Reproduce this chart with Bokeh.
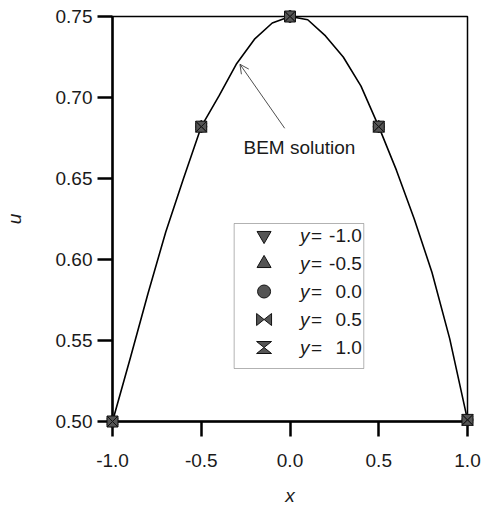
from bokeh.plotting import figure
from bokeh.models import (Range1d, FixedTicker, PrintfTickFormatter, Arrow, OpenHead,
                          BoxAnnotation, Label)
from bokeh.core.properties import value
from bokeh.embed import file_html
from bokeh.resources import INLINE

# BEM solution u(x) traced along the boundary
bem_x = [-1.0, -0.9, -0.8, -0.7, -0.6, -0.5, -0.4, -0.3, -0.2, -0.1, 0.0,
         0.1, 0.2, 0.3, 0.4, 0.5, 0.6, 0.7, 0.8, 0.9, 1.0]
bem_u = [0.500, 0.539, 0.579, 0.617, 0.650, 0.682, 0.701, 0.721, 0.736, 0.746, 0.750,
         0.748, 0.738, 0.725, 0.707, 0.682, 0.655, 0.625, 0.592, 0.551, 0.501]

# computed u at the sampling points, one series per y level
sample_x = [-1.0, -0.5, 0.0, 0.5, 1.0]
u_y_m10 = [0.500, 0.682, 0.750, 0.682, 0.501]
u_y_m05 = [0.500, 0.682, 0.750, 0.682, 0.501]
u_y_00 = [0.500, 0.682, 0.750, 0.682, 0.501]
u_y_05 = [0.500, 0.682, 0.750, 0.682, 0.501]
u_y_10 = [0.500, 0.682, 0.750, 0.682, 0.501]
series_values = ["-1.0", "-0.5", "0.0", "0.5", "1.0"]

x_ticks = [-1.0, -0.5, 0.0, 0.5, 1.0]
u_ticks = [0.50, 0.55, 0.60, 0.65, 0.70, 0.75]

FONT = "Liberation Sans"
W, H = 485, 512
BL, BR, BT, BB = 111, 18, 16, 91
FW, FH = W - BL - BR, H - BT - BB
X0, X1 = -1.0, 1.0
U0, U1 = 0.50, 0.75
PX_X = (X1 - X0) / FW      # data units per pixel, horizontal
PX_U = (U1 - U0) / FH      # data units per pixel, vertical


def fx(px):
    """frame pixel offset from the left edge -> x"""
    return X0 + px * PX_X


def fu(py):
    """frame pixel offset from the top edge -> u"""
    return U1 - py * PX_U


p = figure(width=W, height=H, title=None,
           x_range=Range1d(X0, X1), y_range=Range1d(U0, U1),
           output_backend="svg", toolbar_location=None,
           min_border_left=BL, min_border_right=BR,
           min_border_top=BT, min_border_bottom=BB)
p.background_fill_color = "white"
p.border_fill_color = "white"
p.outline_line_color = "black"
p.outline_line_width = 1.5
p.xgrid.grid_line_color = None
p.ygrid.grid_line_color = None

p.xaxis.ticker = FixedTicker(ticks=x_ticks)
p.xaxis.formatter = PrintfTickFormatter(format="%.1f")
p.yaxis.ticker = FixedTicker(ticks=u_ticks)
p.yaxis.formatter = PrintfTickFormatter(format="%.2f")
p.xaxis.axis_label = "x"
p.yaxis.axis_label = "u"
for ax in (p.xaxis[0], p.yaxis[0]):
    ax.axis_line_width = 2.5
    ax.axis_line_color = "black"
    ax.major_tick_line_width = 2.5
    ax.major_tick_line_color = "black"
    ax.major_tick_out = 15
    ax.major_tick_in = 0
    ax.minor_tick_line_color = None
    ax.major_label_text_font = FONT
    ax.major_label_text_font_size = "19px"
    ax.major_label_text_color = "#1a1a1a"
    ax.axis_label_text_font = FONT
    ax.axis_label_text_font_size = "19px"
    ax.axis_label_text_font_style = "italic"
    ax.axis_label_text_color = "#1a1a1a"
p.yaxis.major_label_standoff = 5
p.xaxis.major_label_standoff = 17
p.yaxis.axis_label_standoff = 28
p.xaxis.axis_label_standoff = 15

# BEM curve
p.line(bem_x, bem_u, line_color="black", line_width=1.6)

MARK_FILL = "#555555"
MARK_LINE = "#111111"


def bow_shapes(xs, us, half_w, half_h, kind):
    """two triangles meeting at each point: 'bowtie' (left/right) or 'hourglass' (top/bottom)"""
    pxs, pus = [], []
    hw, hh = half_w * PX_X, half_h * PX_U
    for x, u in zip(xs, us):
        if kind == "bowtie":
            pxs += [[x - hw, x - hw, x], [x + hw, x + hw, x]]
            pus += [[u + hh, u - hh, u], [u + hh, u - hh, u]]
        else:
            pxs += [[x - hw, x + hw, x], [x - hw, x + hw, x]]
            pus += [[u + hh, u + hh, u], [u - hh, u - hh, u]]
    return pxs, pus


# sampled values for the five y levels, drawn on top of each other
DATA_SIZE = 11
mark_style = dict(fill_color=MARK_FILL, line_color=MARK_LINE, level="overlay")
p.scatter(sample_x, u_y_m10, marker="inverted_triangle", size=DATA_SIZE, **mark_style)
p.scatter(sample_x, u_y_m05, marker="triangle", size=DATA_SIZE, **mark_style)
p.scatter(sample_x, u_y_00, marker="circle", size=DATA_SIZE, **mark_style)
bx, bu = bow_shapes(sample_x, u_y_05, 5.5, 5.5, "bowtie")
p.patches(bx, bu, line_width=1, **mark_style)
hx, hu = bow_shapes(sample_x, u_y_10, 5.5, 5.5, "hourglass")
p.patches(hx, hu, line_width=1, **mark_style)

# annotation pointing at the curve
p.add_layout(Arrow(end=OpenHead(size=9, line_width=0.8, line_color="#222222"),
                   x_start=-0.03, y_start=0.681, x_end=-0.282, y_end=0.7205,
                   line_width=0.8, line_color="#222222"))
p.add_layout(Label(x=-0.262, y=0.669, text="BEM solution", text_baseline="middle",
                   text_font=FONT, text_font_size="19px", text_color="#1a1a1a"))

# legend box (layout in frame pixels)
p.add_layout(BoxAnnotation(left=fx(122), right=fx(252), top=fu(207), bottom=fu(352),
                           fill_color="white", fill_alpha=1.0, line_color="black",
                           line_width=1, level="underlay"))
LEG_SIZE = 14
sym_x = fx(152)
rows = [fu(219 + 28 * i) for i in range(5)]
p.scatter([sym_x], [rows[0]], marker="inverted_triangle", size=LEG_SIZE,
          fill_color=MARK_FILL, line_color=MARK_LINE)
p.scatter([sym_x], [rows[1]], marker="triangle", size=LEG_SIZE,
          fill_color=MARK_FILL, line_color=MARK_LINE)
p.scatter([sym_x], [rows[2]], marker="circle", size=LEG_SIZE - 1,
          fill_color=MARK_FILL, line_color=MARK_LINE)
lbx, lbu = bow_shapes([sym_x], [rows[3]], 7.5, 6, "bowtie")
p.patches(lbx, lbu, fill_color=MARK_FILL, line_color=MARK_LINE, line_width=1)
lhx, lhu = bow_shapes([sym_x], [rows[4]], 7.5, 6, "hourglass")
p.patches(lhx, lhu, fill_color=MARK_FILL, line_color=MARK_LINE, line_width=1)

LEG_FONT_SIZE = "19px"
p.text([fx(188)] * 5, rows, text=["y"] * 5, text_font=value(FONT),
       text_font_size=value(LEG_FONT_SIZE), text_font_style="italic",
       text_baseline="middle", text_align="left", text_color="#1a1a1a")
p.text([fx(199)] * 5, rows, text=["="] * 5, text_font=value(FONT),
       text_font_size=value(LEG_FONT_SIZE), text_baseline="middle",
       text_align="left", text_color="#1a1a1a")
p.text([fx(250)] * 5, rows, text=series_values, text_font=value(FONT),
       text_font_size=value(LEG_FONT_SIZE), text_baseline="middle",
       text_align="right", text_color="#1a1a1a")

open("out.html", "w").write(file_html(p, INLINE))
